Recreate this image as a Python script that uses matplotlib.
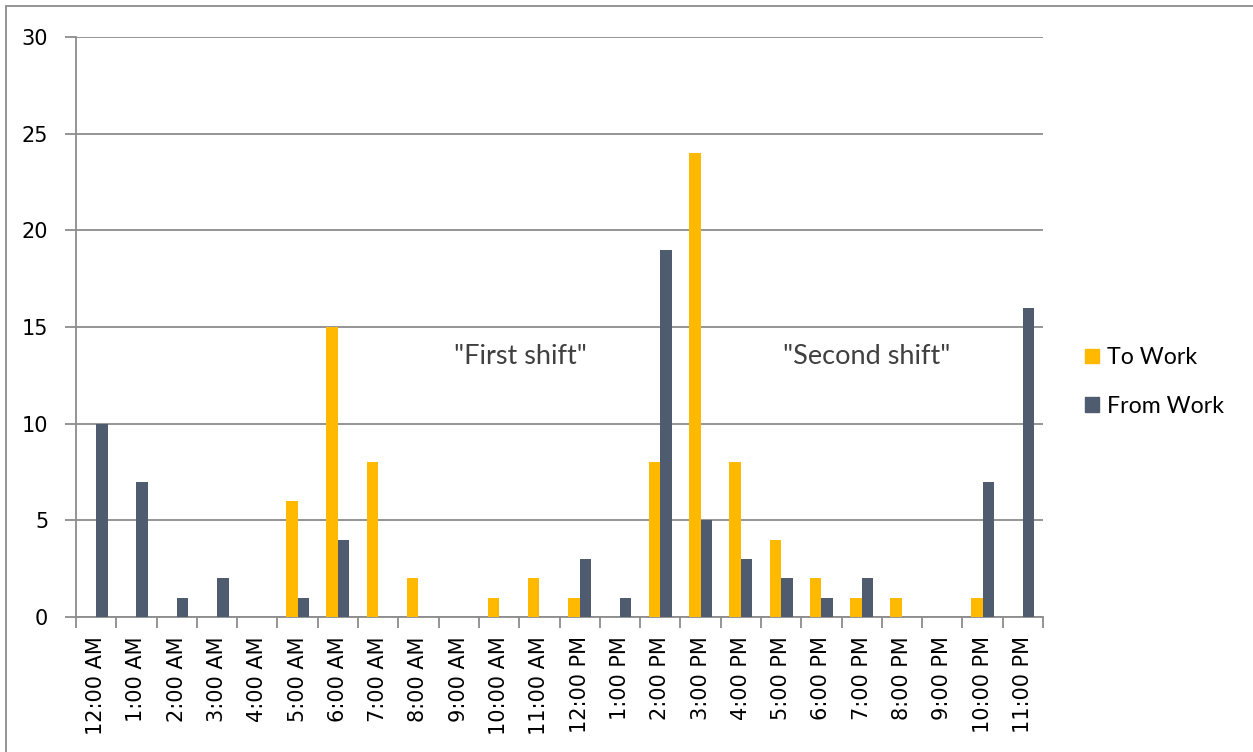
import matplotlib
matplotlib.use("Agg")
import matplotlib.pyplot as plt
import numpy as np
from matplotlib.patches import Rectangle, Patch

categories = ["12:00 AM", "1:00 AM", "2:00 AM", "3:00 AM", "4:00 AM", "5:00 AM",
              "6:00 AM", "7:00 AM", "8:00 AM", "9:00 AM", "10:00 AM", "11:00 AM",
              "12:00 PM", "1:00 PM", "2:00 PM", "3:00 PM", "4:00 PM", "5:00 PM",
              "6:00 PM", "7:00 PM", "8:00 PM", "9:00 PM", "10:00 PM", "11:00 PM"]
to_work = [0, 0, 0, 0, 0, 6, 15, 8, 2, 0, 1, 2, 1, 0, 8, 24, 8, 4, 2, 1, 1, 0, 1, 0]
from_work = [10, 7, 1, 2, 0, 1, 4, 0, 0, 0, 0, 0, 3, 1, 19, 5, 3, 2, 1, 2, 0, 0, 7, 16]
series_names = ["To Work", "From Work"]
y_ticks = [0, 5, 10, 15, 20, 25, 30]

plt.rcParams['font.family'] = ['Lato', 'DejaVu Sans']

W, H = 1253, 752
fig = plt.figure(figsize=(W / 100, H / 100), dpi=100)
ax = fig.add_axes([76 / W, (H - 617) / H, (1043 - 76) / W, (617 - 37) / H])

c_to = "#FFB900"
c_from = "#4F5B6E"
grey = "#8C8C8C"

x = np.arange(len(categories))
bw = 1 / 3.5
ax.bar(x - bw / 2, to_work, width=bw, color=c_to, zorder=3, label=series_names[0])
ax.bar(x + bw / 2, from_work, width=bw, color=c_from, zorder=3, label=series_names[1])

ax.set_xlim(-0.5, len(categories) - 0.5)
ax.set_ylim(0, 30)
ax.set_yticks(y_ticks)
ax.set_yticklabels([str(v) for v in y_ticks], fontsize=15, color="black",
                   family=['DejaVu Sans'])
ax.yaxis.grid(True, color=grey, linewidth=1.3, zorder=0)
ax.tick_params(axis='y', length=8, width=1.3, color=grey, pad=12)

ax.set_xticks(x)
ax.set_xticklabels(categories, rotation=90, fontsize=15, color="black",
                   family=['DejaVu Sans'])
ax.set_xticks(np.arange(-0.5, len(categories)), minor=True)
ax.tick_params(axis='x', which='major', length=0, pad=14)
ax.tick_params(axis='x', which='minor', length=8, width=1.3, color=grey)

for s in ["top", "right"]:
    ax.spines[s].set_visible(False)
ax.spines["left"].set_color(grey)
ax.spines["left"].set_linewidth(1.3)
ax.spines["bottom"].set_color(grey)
ax.spines["bottom"].set_linewidth(1.3)

ax.text(10.54, 13.5, '"First shift"', fontsize=19.5, color="#404040", ha="center", va="center")
ax.text(19.13, 13.5, '"Second shift"', fontsize=19.5, color="#404040", ha="center", va="center")

handles = [Patch(color=c_to), Patch(color=c_from)]
fig.legend(handles, series_names, loc="center left", bbox_to_anchor=(1064 / W, 1 - 382 / H),
           frameon=False, fontsize=16.7, handlelength=0.6, handleheight=0.6,
           handletextpad=0.35, labelspacing=1.2)

fig.patches.append(Rectangle((6 / W, -0.01), 1.1, 1 - 6 / H + 0.01, transform=fig.transFigure,
                             fill=False, edgecolor=grey, linewidth=1.3))

fig.savefig("out.png", dpi=100)
